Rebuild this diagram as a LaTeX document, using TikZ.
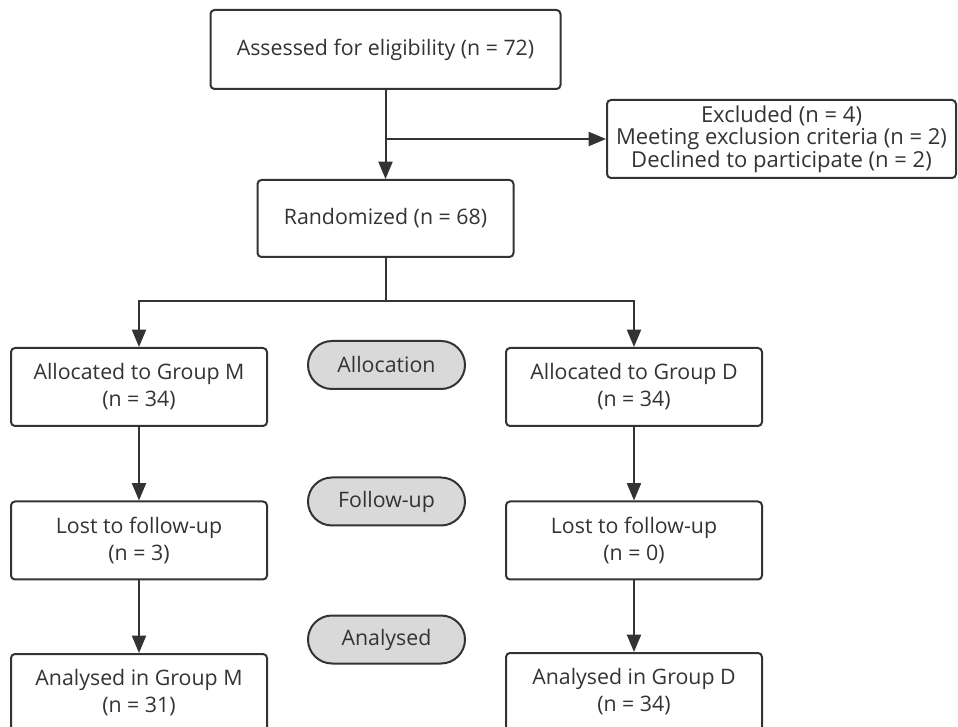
\documentclass[tikz,border=0pt]{standalone}
\usepackage{fontspec}
\setmainfont{Open Sans}
\usetikzlibrary{arrows.meta}
\definecolor{ink}{HTML}{333333}
\definecolor{pillgray}{HTML}{D9D9D9}
\begin{document}
\begin{tikzpicture}[x=0.75pt,y=-0.75pt,
  every node/.style={font=\fontsize{16}{20.25}\selectfont, text=ink},
  box/.style={draw=ink, line width=1.5pt, rounded corners=3pt, fill=white, align=center, inner sep=0pt},
  stdbox/.style={box, minimum width=192pt, minimum height=58.5pt},
  pill/.style={draw=ink, line width=1.5pt, rounded corners=18pt, fill=pillgray, minimum width=117.75pt, minimum height=36pt, inner sep=0pt},
  arr/.style={draw=ink, line width=1.5pt, -{Triangle[width=10.5pt,length=13pt]}},
  ln/.style={draw=ink, line width=1.5pt}]
\useasboundingbox (0,0) rectangle (958,727);
\node[box, minimum width=262.5pt, minimum height=59.25pt] (assess) at (385.5,49.5) {Assessed for eligibility (n = 72)};
\node[box, minimum width=261.75pt, minimum height=58.5pt, font=\fontsize{16.5}{17}\selectfont] (excl) at (781.5,139) {Excluded (n = 4)\\Meeting exclusion criteria (n = 2)\\Declined to participate (n = 2)};
\node[stdbox, minimum height=57.75pt] (rand) at (385.5,218.5) {Randomized (n = 68)};
\node[stdbox] (allocM) at (139,387) {Allocated to Group M\\(n = 34)};
\node[stdbox] (allocD) at (634,387) {Allocated to Group D\\(n = 34)};
\node[stdbox] (lostM) at (139,540.5) {Lost to follow-up\\(n = 3)};
\node[stdbox] (lostD) at (634,540.5) {Lost to follow-up\\(n = 0)};
\node[stdbox] (anM) at (139,693) {Analysed in Group M\\(n = 31)};
\node[stdbox] (anD) at (634,692) {Analysed in Group D\\(n = 34)};
\node[pill] (pAlloc) at (386.5,365) {Allocation};
\node[pill] (pFollow) at (386.5,501.5) {Follow-up};
\node[pill] (pAnal) at (386.5,639.5) {Analysed};
\coordinate (split) at (385.5,301);
\draw[arr] (assess) -- (rand);
\draw[arr] (assess.south |- excl.west) -- (excl.west);
\draw[ln] (rand.south) -- (split);
\draw[arr] (split) -| (allocM.north);
\draw[arr] (split) -| (allocD.north);
\draw[arr] (allocM) -- (lostM);
\draw[arr] (lostM) -- (anM);
\draw[arr] (allocD) -- (lostD);
\draw[arr] (lostD) -- (anD);
\end{tikzpicture}
\end{document}
